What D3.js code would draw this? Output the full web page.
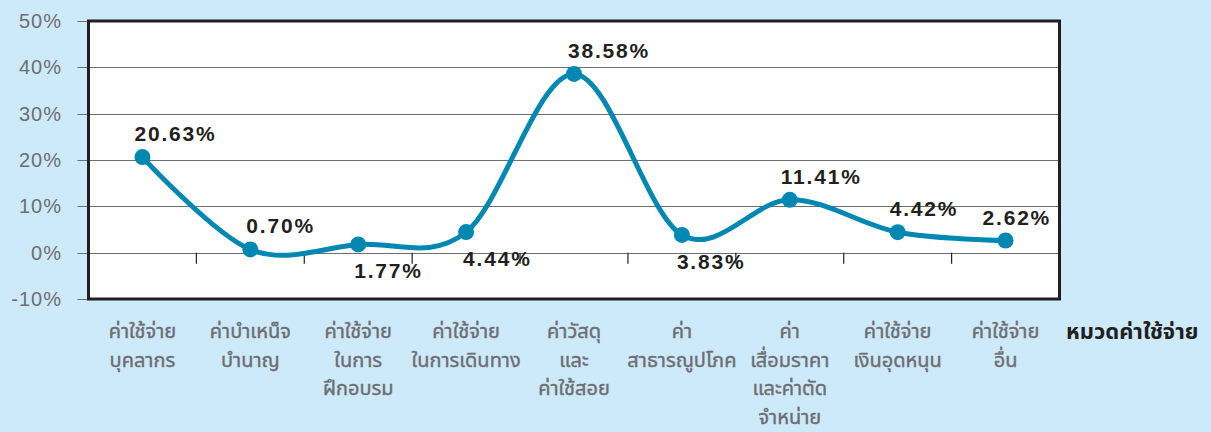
<!DOCTYPE html>
<html>
<head>
<meta charset="utf-8">
<script src="https://cdn.jsdelivr.net/npm/d3@7"></script>
<style>
  body { margin: 0; background: #cdeafb; }
  svg { display: block; }
  .ylab { font-family: "Liberation Sans", Arial, sans-serif; font-size: 20px; fill: #6d6e71; letter-spacing: 1px; }
  .cat { font-family: "Noto Sans Thai", "Noto Sans", "DejaVu Sans", sans-serif; font-size: 20px; fill: #6d6e71; stroke: #6d6e71; stroke-width: 0.4px; }
  .val { font-family: "Liberation Sans", Arial, sans-serif; font-size: 21px; font-weight: bold; fill: #231f20; letter-spacing: 1.8px; }
  .title { font-family: "Noto Sans Thai", "Noto Sans", "DejaVu Sans", sans-serif; font-size: 22px; font-weight: bold; fill: #231f20; }
</style>
</head>
<body>
<div id="chart"></div>
<script>
// Categories (each line of the label as its own string)
const categories = [
    ["ค่าใช้จ่าย", "บุคลากร"],
    ["ค่าบำเหน็จ", "บำนาญ"],
    ["ค่าใช้จ่าย", "ในการ", "ฝึกอบรม"],
    ["ค่าใช้จ่าย", "ในการเดินทาง"],
    ["ค่าวัสดุ", "และ", "ค่าใช้สอย"],
    ["ค่า", "สาธารณูปโภค"],
    ["ค่า", "เสื่อมราคา", "และค่าตัด", "จำหน่าย"],
    ["ค่าใช้จ่าย", "เงินอุดหนุน"],
    ["ค่าใช้จ่าย", "อื่น"]
];
const values = [20.63, 0.70, 1.77, 4.44, 38.58, 3.83, 11.41, 4.42, 2.62];
const labelSide = ["above", "above", "below", "below", "above", "below", "above", "above", "above"];
const yTicks = [-10, 0, 10, 20, 30, 40, 50];
const axisTitle = "หมวดค่าใช้จ่าย";

// small nudges so value labels sit where the original has them
const labelNudge = [-8, -4, -4, -3, -6, -5, -9, -8, -23];

const W = 1211, H = 432;
const plot = {left: 88.5, right: 1059.5, top: 21, bottom: 299};

const svg = d3.select("#chart").append("svg")
    .attr("width", W)
    .attr("height", H);

const x = d3.scaleBand()
    .domain(d3.range(categories.length))
    .range([plot.left, plot.right]);

const y = d3.scaleLinear()
    .domain([-10, 50])
    .range([plot.bottom, plot.top]);

// Plot background
svg.append("rect")
    .attr("x", plot.left)
    .attr("y", plot.top)
    .attr("width", plot.right - plot.left)
    .attr("height", plot.bottom - plot.top)
    .attr("fill", "#fff");

// Gridlines + left tick marks
svg.append("g")
    .selectAll("line")
    .data(yTicks)
    .join("line")
    .attr("x1", plot.left - 11)
    .attr("x2", plot.right)
    .attr("y1", d => Math.round(y(d)) + 0.5)
    .attr("y2", d => Math.round(y(d)) + 0.5)
    .attr("stroke", "#6d6e71")
    .attr("stroke-width", 1.2);

// Y labels
svg.append("g")
    .selectAll("text")
    .data(yTicks)
    .join("text")
    .attr("class", "ylab")
    .attr("x", 62)
    .attr("y", d => y(d) + 7)
    .attr("text-anchor", "end")
    .text(d => d + "%");

// Category ticks on the 0% line
svg.append("g")
    .selectAll("line")
    .data(d3.range(1, categories.length))
    .join("line")
    .attr("x1", d => x(d))
    .attr("x2", d => x(d))
    .attr("y1", y(0))
    .attr("y2", y(0) + 11)
    .attr("stroke", "#231f20")
    .attr("stroke-width", 1.2);

// Plot frame
svg.append("rect")
    .attr("x", plot.left)
    .attr("y", plot.top)
    .attr("width", plot.right - plot.left)
    .attr("height", plot.bottom - plot.top)
    .attr("fill", "none")
    .attr("stroke", "#231f20")
    .attr("stroke-width", 3);

// Category labels
const cx = i => x(i) + x.bandwidth() / 2;
svg.append("g")
    .selectAll("text")
    .data(categories)
    .join("text")
    .attr("class", "cat")
    .attr("text-anchor", "middle")
    .attr("x", (d, i) => cx(i))
    .attr("y", 338)
    .selectAll("tspan")
    .data(d => d)
    .join("tspan")
    .attr("x", function() { return this.parentNode.getAttribute("x"); })
    .attr("dy", (d, i) => i === 0 ? 0 : 28.5)
    .text(d => d);

svg.append("text")
    .attr("class", "title")
    .attr("x", 1066)
    .attr("y", 339)
    .text(axisTitle);

// Smoothed line
const line = d3.line()
    .x((d, i) => cx(i))
    .y(d => y(d))
    .curve(d3.curveCardinal.tension(0));

svg.append("path")
    .datum(values)
    .attr("fill", "none")
    .attr("stroke", "#0088b2")
    .attr("stroke-width", 5)
    .attr("d", line);

svg.append("g")
    .selectAll("circle")
    .data(values)
    .join("circle")
    .attr("cx", (d, i) => cx(i))
    .attr("cy", d => y(d))
    .attr("r", 8)
    .attr("fill", "#0088b2");

// Value labels
svg.append("g")
    .selectAll("text")
    .data(values)
    .join("text")
    .attr("class", "val")
    .attr("x", (d, i) => cx(i) + labelNudge[i])
    .attr("y", (d, i) => y(d) + (labelSide[i] === "above" ? -16 : 34))
    .text(d => d.toFixed(2) + "%");
</script>
</body>
</html>
